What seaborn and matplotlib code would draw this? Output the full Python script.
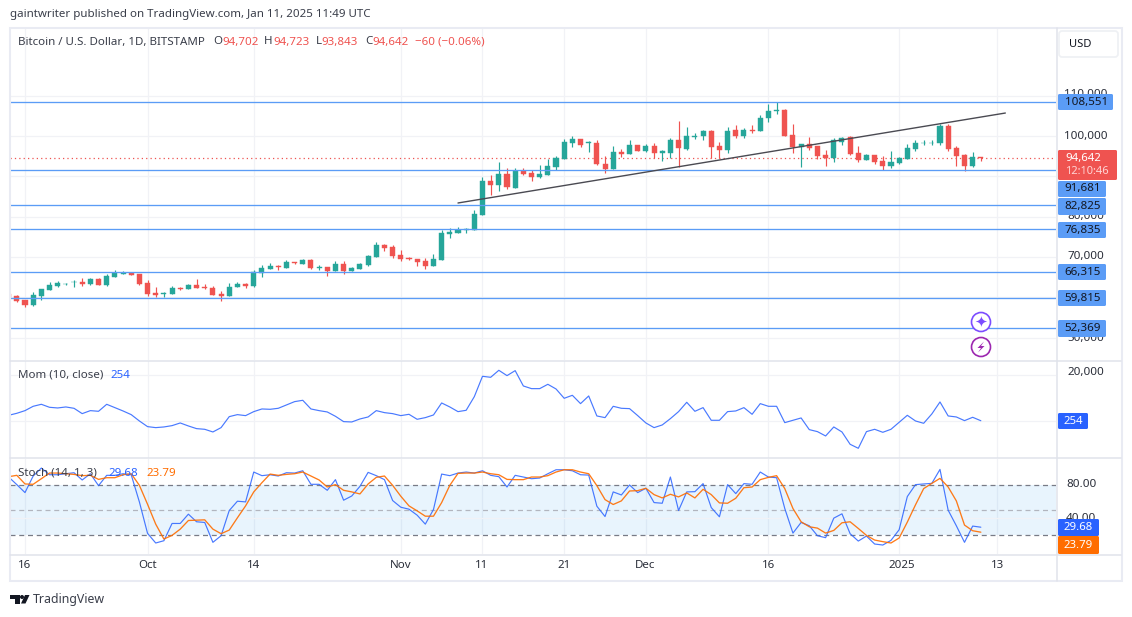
import numpy as np
import pandas as pd
import matplotlib
matplotlib.use('Agg')
import matplotlib.pyplot as plt
import matplotlib.dates as mdates
from matplotlib.patches import Rectangle, Circle, Polygon, FancyBboxPatch
import seaborn as sns

# BTCUSD daily candles
start_date = '2024-09-14'
opens = [60700,60200,59210,57970,60200,61690,62680,63180,63670,63670,63180,64420,62930,64910,65740,65910,65660,63430,60950,60780,60700,62190,61940,62930,62430,62190,60700,60200,62430,63180,62680,65910,66900,67730,67150,68640,68140,69130,67230,67400,66400,68140,66400,66900,67890,69880,
         72900,72400,70420,69670,69420,68930,67690,69170,75630,75870,76780,76620,80340,88770,87780,90510,87040,91260,90760,89770,90260,92250,94230,98200,99190,98200,98200,92990,91750,95970,95470,97710,96220,97460,95890,95720,98950,96710,99690,99940,101180,97460,96470,101430,99940,101430,101180,104400,106140,106390,100190,97210,97950,97460,95230,94480,98450,99690,95720,93980,95230,93740,92500,93240,94230,96710,98200,98200,98200,102420,96960,95230,92500,94702]
highs = [60850,60450,59210,61360,61940,63840,64090,63590,64340,64830,64670,64830,65820,66650,66400,66150,65660,64170,62430,61360,62680,62430,63180,64420,63180,62680,61440,63430,63670,63430,66650,67890,68390,67890,69130,68640,69380,69550,67890,67400,68880,68880,67400,68390,70370,73600,
         73140,72900,71660,69920,69420,69670,70660,76620,77110,77360,77110,81580,89770,90260,93490,92000,92000,92000,91500,92740,94230,94980,99190,99940,99190,98700,98950,94980,97460,96710,98950,97710,97950,98200,96470,99440,103660,102170,100680,101430,101430,98450,102170,102670,101920,102670,105150,107880,108370,106640,102920,97950,99690,97460,96470,99440,99690,99940,97460,95470,95230,94980,96220,94730,97950,98950,98950,98950,102920,102920,97460,95470,95970,94723]
lows = [60100,58800,57560,57720,59290,61690,62430,62930,62430,62680,62930,62930,62680,64910,65660,65410,62930,60200,59950,59950,60700,61690,61940,62190,61940,60450,58960,60200,62430,62190,62430,64910,66900,66650,67150,68140,68140,66900,66650,65160,66400,65660,66400,66900,67640,69880,
        71410,69670,68930,69170,67690,66940,67690,69170,74630,75870,75870,76620,80340,85300,86290,86790,87040,90260,88770,89520,90260,91500,94230,97210,97210,95970,92740,90760,91750,94730,95470,96220,95970,94480,93740,94480,92250,96470,99190,98950,94480,94480,95720,99440,99440,100680,101180,103410,105400,99940,95720,92250,96470,94230,92500,93490,97710,95230,93490,93980,92990,91500,92000,92990,94230,96220,97710,97710,97710,96220,92500,91260,92250,93843]
closes = [60100,59040,57970,60450,61940,62930,63430,63340,63840,63180,64420,62930,65160,65910,65910,65410,63180,60700,60610,60950,62190,61940,62930,62190,62190,60450,60200,62430,63180,62680,66150,67150,67640,67480,68640,68470,69130,67150,67480,66400,68140,66400,67150,68140,70120,72850,
          72150,70170,69420,69420,68680,67690,69420,75870,76120,76780,76950,80590,88770,87780,90510,87290,91260,90510,89770,90510,92500,94480,98450,99190,97710,98450,92990,91750,95970,95470,97710,96220,97460,95720,96220,98950,96960,99940,99940,101180,97210,96470,101180,99940,101430,101260,104400,106140,106390,99940,97210,97950,96960,94980,94650,98950,99440,95470,93980,95230,93490,92500,93490,94480,96960,98200,98370,98370,102420,96710,94980,92500,94730,94642]

# Momentum (10, close)
mom = [2610,3480,4640,6525,7395,6090,5800,6235,5655,3335,4640,4350,7395,5945,4495,2900,145,-2320,-2755,-2465,-1885,-725,-2030,-3190,-3480,-4640,-2755,2030,2900,2465,4205,5365,5220,5655,7105,8555,9135,5365,4640,4060,2175,-145,-290,1015,1885,4640,3770,3335,2465,3045,870,1595,2755,7975,6235,4205,4785,10730,19575,19140,22185,19865,22040,15370,14210,14210,16095,14065,
       10005,11310,7685,11020,2320,1595,6525,5655,5510,2465,-725,-2755,-1595,1160,4205,8265,4350,5945,435,435,4205,4495,5945,3045,7685,6525,6525,-580,435,1450,-3625,-4495,-6380,-2465,-4640,-10005,-11745,-4495,-3480,-4785,-3480,-435,2610,145,-870,3190,8410,2320,1885,290,1740,254]

# Stochastic (14, 1, 3)
stoch_k = [89.0,80.0,70.6,90.2,99.6,91.7,91.7,92.9,94.1,85.5,92.9,78.8,91.0,91.0,92.9,91.7,59.6,22.4,11.0,13.7,34.1,34.1,45.1,36.1,35.3,11.8,19.6,49.4,60.4,59.6,94.9,90.6,91.7,90.2,94.1,93.7,96.4,80.4,80.4,73.3,85.9,61.6,66.6,78.0,94.5,90.6,85.9,61.2,53.3,51.0,43.9,33.3,50.6,92.5,90.6,93.7,94.9,93.7,96.4,91.0,89.4,77.2,91.0,89.0,87.0,87.8,92.9,97.6,
           97.6,96.4,91.7,91.3,54.5,42.3,71.4,67.8,79.6,70.6,75.7,58.8,58.0,89.0,49.4,71.4,71.7,81.2,52.9,42.0,80.0,69.4,81.2,80.4,94.9,89.0,88.2,51.8,22.7,35.3,31.4,19.6,17.3,40.4,45.5,22.0,13.3,19.2,9.8,8.6,14.1,26.7,65.9,80.0,80.8,81.5,98.0,49.8,31.4,11.8,31.0,29.68]
stoch_d = [89.4,91.0,80.8,80.4,87.0,93.7,93.7,92.9,92.1,90.6,91.0,86.2,88.2,88.2,91.7,92.9,79.2,56.8,33.3,15.7,20.0,27.4,37.6,38.0,38.4,27.4,22.0,26.3,40.8,54.9,71.4,82.3,92.5,91.0,92.1,92.9,94.9,90.2,85.5,77.2,80.0,73.3,71.4,69.0,80.8,88.6,90.2,79.2,66.3,54.9,49.0,42.7,42.7,58.8,79.2,93.3,93.7,93.7,94.9,92.9,91.7,86.2,85.9,85.9,89.0,89.0,90.6,94.9,
           97.6,97.6,94.9,92.9,78.8,62.3,56.5,60.8,72.5,72.9,75.7,68.2,64.3,68.6,65.5,70.2,64.3,74.5,68.2,58.4,58.0,63.9,76.4,77.2,85.9,88.6,90.6,75.3,51.8,36.1,30.2,28.6,22.7,25.9,34.9,36.1,28.2,20.0,14.5,12.6,11.0,16.9,35.7,56.1,75.3,81.5,87.4,77.2,60.8,32.2,25.5,23.79]

# horizontal levels and trend line drawn on the chart
levels = [108551, 91681, 82825, 76835, 66315, 59815, 52369]
level_labels = ['108,551', '91,681', '82,825', '76,835', '66,315', '59,815', '52,369']
last_price = 94642
trend_dates = ['2024-11-08', '2025-01-14']
trend_prices = [83380, 105700]

price_ticks = [110000, 100000, 90000, 80000, 70000, 60000, 50000]
mom_ticks = [20000, 0]
time_ticks = ['2024-09-16', '2024-10-01', '2024-10-14', '2024-11-01', '2024-11-11',
              '2024-11-21', '2024-12-01', '2024-12-16', '2025-01-01', '2025-01-13']
time_labels = ['16', 'Oct', '14', 'Nov', '11', '21', 'Dec', '16', '2025', '13']

UP = '#26a69a'
DOWN = '#ef5350'
LEVEL = '#5b9cf6'
GRID = '#f1f2f6'
BORDER = '#e0e3eb'
TEXT = '#131722'
K_COLOR = '#2962ff'
D_COLOR = '#ff6d00'

W, H = 1132, 617
FONT = 'Noto Sans'

sns.set_theme(style='white')
plt.rcParams['font.family'] = [FONT, 'DejaVu Sans']

df = pd.DataFrame({'date': pd.date_range(start_date, periods=len(closes)),
                   'open': opens, 'high': highs, 'low': lows, 'close': closes,
                   'mom': mom, 'k': stoch_k, 'd': stoch_d})
df['num'] = mdates.date2num(df['date'])
is_up = df['close'] >= df['open']
colors = np.where(is_up, UP, DOWN)

fig = plt.figure(figsize=(W / 100, H / 100), dpi=100)
fig.patch.set_facecolor('white')


def pane(top, bottom):
    return fig.add_axes([10 / W, 1 - bottom / H, (1056 - 10) / W, (bottom - top) / H])


ax_price = pane(28, 360)
ax_mom = pane(361, 457.5)
ax_stoch = pane(458.5, 554)

x0 = mdates.date2num(pd.Timestamp('2024-09-16'))
tick_nums = mdates.date2num(pd.to_datetime(time_ticks))
for ax in (ax_price, ax_mom, ax_stoch):
    for s in ax.spines.values():
        s.set_visible(False)
    for t in tick_nums:
        ax.axvline(t, color=GRID, lw=0.9, zorder=0)

# 1. Price pane ----------------------
ax_price.set_ylim(44426, 126795)
for p in price_ticks:
    ax_price.axhline(p, color=GRID, lw=0.9, zorder=0)
ax_price.vlines(df['num'], df['low'], df['high'], colors=colors, lw=0.85, zorder=3)
ax_price.bar(df['num'], (df['close'] - df['open']).abs(), bottom=df[['open', 'close']].min(axis=1),
             width=0.62, color=colors, edgecolor=colors, linewidth=0.3, zorder=4)
for p in levels:
    ax_price.axhline(p, color=LEVEL, lw=0.95, zorder=5)
ax_price.axhline(last_price, color=DOWN, lw=0.9, ls=(0, (1, 2.5)), zorder=2)
sns.lineplot(x=mdates.date2num(pd.to_datetime(trend_dates)), y=trend_prices, ax=ax_price,
             color='#4a4a52', lw=1.0, zorder=6)

# 2. Momentum pane ----------------------
ax_mom.set_ylim(-15750, 26230)
for v in mom_ticks:
    ax_mom.axhline(v, color=GRID, lw=0.9, zorder=0)
sns.lineplot(data=df, x='num', y='mom', ax=ax_mom, color=K_COLOR, lw=0.85, alpha=0.85)

# 3. Stochastic pane ----------------------
ax_stoch.set_ylim(-2.0, 110.9)
ax_stoch.axhspan(20, 80, color='#2196f3', alpha=0.1, lw=0, zorder=1)
ax_stoch.axhline(40, color=GRID, lw=0.9, zorder=1)
ax_stoch.axhline(80, color='#787b86', lw=0.9, ls=(0, (4, 3)), zorder=2)
ax_stoch.axhline(50, color='#b2b5be', lw=0.9, ls=(0, (4, 3)), zorder=2)
ax_stoch.axhline(20, color='#787b86', lw=0.9, ls=(0, (4, 3)), zorder=2)
sns.lineplot(data=df, x='num', y='k', ax=ax_stoch, color=K_COLOR, lw=0.85, alpha=0.85, zorder=3)
sns.lineplot(data=df, x='num', y='d', ax=ax_stoch, color=D_COLOR, lw=0.95, alpha=0.9, zorder=4)

for ax in (ax_price, ax_mom, ax_stoch):
    ax.set_xlim(x0 - 1.836, x0 + 126.2)
    ax.set_xticks([])
    ax.set_yticks([])
    ax.set_xlabel('')
    ax.set_ylabel('')

# Overlay in pixel units for the frame, price tags and captions ----------------------
ov = fig.add_axes([0, 0, 1, 1], zorder=10)
ov.set_xlim(0, W)
ov.set_ylim(H, 0)
ov.axis('off')
ov.patch.set_alpha(0)


def label(x, y, s, color=TEXT, size=8.3, ha='left', weight='normal', z=8):
    ov.text(x, y, s, color=color, fontsize=size, ha=ha, va='center', weight=weight, zorder=z)


def tag(y0, y1, x1, color):
    ov.add_patch(FancyBboxPatch((1058, y0), x1 - 1058, y1 - y0, boxstyle='round,pad=0,rounding_size=1.5',
                                fc=color, ec='none', zorder=6))


# frame and pane separators
ov.add_patch(Rectangle((9.5, 27.5), 1112, 553.5, fc='none', ec='#e9ebf3', lw=1.5, zorder=1))
ov.plot([1056.5, 1056.5], [28, 581], color=BORDER, lw=1.1, zorder=2)
ov.plot([10, 1121], [360.5, 360.5], color=BORDER, lw=1.1, zorder=2)
ov.plot([10, 1121], [457.7, 457.7], color=BORDER, lw=1.1, zorder=2)
ov.plot([10, 1121], [554.5, 554.5], color=BORDER, lw=1.1, zorder=2)

# header text
HEAD = '#3a3e4a'
label(10, 15, 'gaintwriter published on TradingView.com, Jan 11, 2025 11:49 UTC', color=HEAD, size=8.3)
label(18, 42, 'Bitcoin / U.S. Dollar, 1D, BITSTAMP', color=HEAD, size=8.3)
for x, s, c in [(213, 'O', HEAD), (222, '94,702', DOWN), (264, 'H', HEAD), (273, '94,723', DOWN),
                (316, 'L', HEAD), (321, '93,843', DOWN), (365, 'C', HEAD), (372, '94,642', DOWN),
                (415, '\u221260 (\u22120.06%)', DOWN)]:
    label(x, 42, s, color=c, size=8.3)
label(18, 375, 'Mom (10, close)', color=HEAD, size=8.3)
label(110, 375, '254', color=K_COLOR, size=8.3)
label(18, 473, 'Stoch (14, 1, 3)', color=HEAD, size=8.3)
label(108, 473, '29.68', color=K_COLOR, size=8.3)
label(146, 473, '23.79', color=D_COLOR, size=8.3)

# USD box
ov.add_patch(FancyBboxPatch((1059, 31), 59, 26, boxstyle='round,pad=0,rounding_size=3',
                            fc='white', ec='#eef0f4', lw=1.2, zorder=3))
label(1080, 44.5, 'USD', ha='center', size=8.0)

# price scale, only the ticks that the tags do not cover completely
scale_ticks = [110000, 100000, 80000, 70000, 50000]
scale_y = [95, 136, 216, 257, 338]
for p, y in zip(scale_ticks, scale_y):
    label(1086, y, f'{p:,}', ha='center', color='#2a2e39', size=8.4, z=4)
label(1086, 373, '20,000', ha='center', color='#2a2e39', size=8.4, z=4)
label(1066, 484.5, '80.00', color='#2a2e39', size=8.4, z=4)
label(1066, 518.5, '40.00', color='#2a2e39', size=8.4, z=4)

# level tags
tag_boxes = [(94, 110, 1113), (181, 197, 1106), (198, 215, 1106), (222, 238, 1106),
             (264, 280, 1106), (290, 306, 1106), (320, 337, 1106)]
for (y0, y1, x1), s in zip(tag_boxes, level_labels):
    tag(y0, y1, x1, LEVEL)
    label((1058 + x1) / 2 + 1, (y0 + y1) / 2, s, ha='center', size=8.4)

tag(150, 180, 1117, DOWN)
label(1065, 158, '94,642', color='white', weight='bold', size=8.2)
label(1065, 172, '12:10:46', color='#ffd5d5', weight='bold', size=8.0)
tag(413, 429, 1088, K_COLOR)
label(1073, 421, '254', color='white', weight='bold', size=8.2, ha='center')
tag(519, 536, 1099, K_COLOR)
label(1078, 527.5, '29.68', color='white', weight='bold', size=8.2, ha='center')
tag(536, 554, 1099, D_COLOR)
label(1078, 545, '23.79', color='white', weight='bold', size=8.2, ha='center')

# time axis labels
time_px = [25, 148, 254, 401, 482, 564, 645, 769, 902, 998]
for x, s in zip(time_px, time_labels):
    label(x, 566, s, ha='center', color='#2a2e39', size=8.3, weight='bold' if s == '2025' else 'normal')

# round badges, star and bolt
ov.add_patch(Circle((981, 322), 9.5, fc='white', ec='#7c4dff', lw=1.2, zorder=6))
ov.text(981, 322, '\u2726', color='#7c4dff', fontsize=11, ha='center', va='center',
        family='DejaVu Sans', zorder=7)
ov.add_patch(Circle((981, 347), 9.5, fc='white', ec='#9c27b0', lw=1.2, zorder=6))
ov.add_patch(Polygon([(984, 341.5), (977.5, 348), (981, 348), (978, 352.5), (984.5, 346), (981, 346)],
                     fc='#9c27b0', ec='none', zorder=7))

# TradingView logo
ov.add_patch(Polygon([(10, 595), (19.5, 595), (19.5, 603.5), (15, 603.5), (15, 599), (10, 599)], fc='#131722', ec='none'))
ov.add_patch(Circle((22, 597), 2, fc='#131722', ec='none'))
ov.add_patch(Polygon([(25, 595), (29.5, 595), (25.5, 603.5), (21, 603.5)], fc='#131722', ec='none'))
label(33, 600, 'TradingView', color='#3a3e4a', size=8.9)

fig.savefig('out.png', dpi=100)
